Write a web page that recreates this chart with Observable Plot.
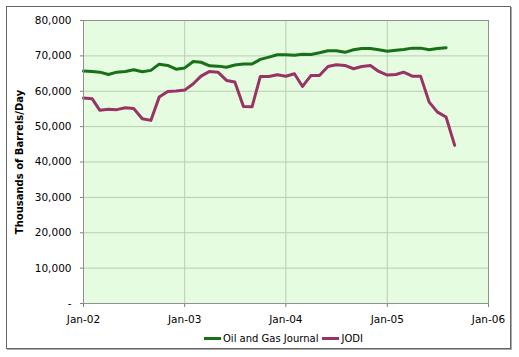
<!DOCTYPE html>
<html>
<head>
<meta charset="utf-8">
<script src="https://cdn.jsdelivr.net/npm/d3@7"></script>
<script src="https://cdn.jsdelivr.net/npm/@observablehq/plot@0.6"></script>
<style>
  html, body { margin: 0; padding: 0; background: #fff; }
  #wrap { position: relative; width: 519px; height: 357px; overflow: hidden; font-family: "DejaVu Sans", Verdana, sans-serif; }
  #frame { position: absolute; left: 6px; top: 6px; width: 503px; height: 341px; border: 1px solid #666; box-shadow: 1px 1px 0 #aaa; }
  #chart { position: absolute; left: 0; top: 0; }
  #legend { position: absolute; left: 204px; top: 333px; font-size: 10px; color: #000; white-space: nowrap; display: flex; align-items: center; }
  .sw { display: inline-block; width: 17px; height: 3px; margin-right: 2px; }
</style>
</head>
<body>
<div id="wrap">
  <div id="frame"></div>
  <div id="chart"></div>
  <div id="legend">
    <span class="sw" style="background:#187018"></span><span>Oil and Gas Journal</span>
    <span class="sw" style="background:#993366;margin-left:4px"></span><span>JODI</span>
  </div>
</div>
<script>
const startYear = 2002;
const seriesNames = ["Oil and Gas Journal", "JODI"];
const ogjValues = [65700, 65600, 65400, 64750, 65400, 65600, 66080, 65500, 65900, 67660, 67300, 66250,
  66600, 68420, 68200, 67200, 67100, 66800, 67400, 67700, 67700, 69000, 69640, 70300,
  70350, 70200, 70450, 70400, 70880, 71440, 71440, 71000, 71720, 72100, 72100, 71720,
  71300, 71620, 71800, 72190, 72190, 71720, 72100, 72300];
const jodiValues = [58060, 57900, 54600, 54900, 54800, 55350, 55100, 52240, 51760, 58340, 59950, 60040,
  60330, 62120, 64270, 65600, 65400, 63060, 62600, 55700, 55600, 64180, 64180, 64660,
  64240, 64950, 61360, 64470, 64470, 67000, 67490, 67300, 66360, 67000, 67300, 65600,
  64560, 64750, 65400, 64270, 64270, 56930, 54100, 52700, 44700];
const yTicks = [0, 10000, 20000, 30000, 40000, 50000, 60000, 70000, 80000];
const xTickLabels = ["Jan-02", "Jan-03", "Jan-04", "Jan-05", "Jan-06"];

const monthDate = i => new Date(Date.UTC(startYear, i, 1));
const rows = [];
ogjValues.forEach((v, i) => rows.push({series: seriesNames[0], date: monthDate(i), value: v}));
jodiValues.forEach((v, i) => rows.push({series: seriesNames[1], date: monthDate(i), value: v}));
const xTicks = xTickLabels.map((_, i) => new Date(Date.UTC(startYear + i, 0, 1)));

const fmt = d3.format(",");
const chart = Plot.plot({
  width: 519,
  height: 357,
  marginLeft: 83,
  marginRight: 31,
  marginTop: 20,
  marginBottom: 54,
  style: {fontFamily: "DejaVu Sans, Verdana, sans-serif", fontSize: "10px", background: "transparent", color: "#000"},
  x: {type: "utc", domain: [xTicks[0], xTicks[xTicks.length - 1]]},
  y: {domain: [0, 80000]},
  color: {domain: seriesNames, range: ["#187018", "#993366"]},
  marks: [
    Plot.frame({fill: "#e6fce0", stroke: null}),
    Plot.gridY(yTicks, {stroke: "#b8cdb2", strokeOpacity: 1}),
    Plot.gridX(xTicks, {stroke: "#b8cdb2", strokeOpacity: 1}),
    Plot.axisY(yTicks, {tickFormat: d => d === 0 ? "-" : fmt(d), tickSize: 3, tickPadding: 9, fontSize: 10.5, stroke: "#808080",
      label: "Thousands of Barrels/Day", labelAnchor: "center", labelOffset: 68, labelArrow: "none"}),
    Plot.axisX(xTicks, {tickFormat: (d, i) => xTickLabels[i], tickSize: 4, tickPadding: 8, fontSize: 10.5, stroke: "#808080", label: null}),
    Plot.lineY(rows, {x: "date", y: "value", z: "series", stroke: "series", strokeWidth: 3, curve: "linear"}),
    Plot.ruleY([0], {stroke: "#808080"}),
    Plot.ruleX([xTicks[0]], {stroke: "#808080"}),
    Plot.frame({stroke: "#909090"})
  ]
});
document.getElementById("chart").appendChild(chart);
const lab = chart.querySelector('[aria-label="y-axis label"] text');
if (lab) { lab.style.fontWeight = "bold"; lab.style.fontSize = "10px"; }
chart.querySelectorAll('[aria-label="y-axis tick label"] text, [aria-label="x-axis tick label"] text').forEach(t => t.setAttribute("fill", "#000"));
</script>
</body>
</html>
